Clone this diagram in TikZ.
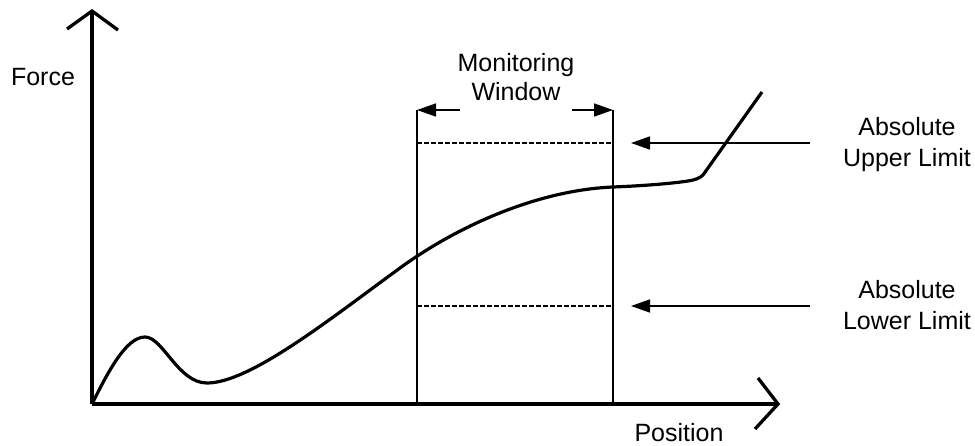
\documentclass[tikz,border=0pt]{standalone}
\usepackage{fontspec}
\setmainfont{Liberation Sans}
\usetikzlibrary{arrows.meta}
\begin{document}
\begin{tikzpicture}[x=1pt,y=-1pt,
  axis/.style={line width=3.3pt,line cap=butt,line join=miter},
  curve/.style={line width=3.2pt,line join=round},
  frame/.style={line width=1.4pt},
  limit/.style={line width=1.3pt,dash pattern=on 4.5pt off 2.5pt},
  pointer/.style={line width=1.6pt,-{Triangle[length=19pt,width=13pt]}},
  lbl/.style={anchor=base,inner sep=0pt,font=\fontsize{25}{30}\selectfont}]
\useasboundingbox (0,0) rectangle (975,445);

% axes with open heads
\coordinate (O) at (92,404);
\coordinate (ytop) at (92,11);
\coordinate (ya) at (67,29);
\coordinate (yb) at (118,30);
\coordinate (xend) at (778,404);
\coordinate (xa) at (758,378);
\coordinate (xb) at (755,429);
\draw[axis] (O) -- (ytop);
\draw[axis] (ya) -- (ytop) -- (yb);
\draw[axis] (O) -- (xend);
\draw[axis] (xa) -- (xend) -- (xb);

% monitoring window
\coordinate (wlt) at (417,110);
\coordinate (wlb) at (417,404);
\coordinate (wrt) at (613,110);
\coordinate (wrb) at (613,404);
\draw[frame] (wlt) -- (wlb);
\draw[frame] (wrt) -- (wrb);
\coordinate (wla) at (460,110);
\coordinate (wra) at (572,110);
\draw[pointer] (wla) -- (wlt);
\draw[pointer] (wra) -- (wrt);

% limit lines
\coordinate (ul1) at (417,143);
\coordinate (ul2) at (613,143);
\coordinate (ll1) at (417,306);
\coordinate (ll2) at (613,306);
\draw[limit] (ul1) -- (ul2);
\draw[limit] (ll1) -- (ll2);
\coordinate (uls) at (810,143);
\coordinate (ule) at (631,143);
\coordinate (lls) at (810,306);
\coordinate (lle) at (631,306);
\draw[pointer] (uls) -- (ule);
\draw[pointer] (lls) -- (lle);

% force curve
\draw[curve] (O)
  .. controls (108,372) and (126,337) .. (145,337)
  .. controls (163,337) and (178,383) .. (207,383)
  .. controls (250,383) and (330,319) .. (400,268)
  .. controls (460,224.3) and (540,190) .. (613,187)
  .. controls (650,185.5) and (675,183) .. (688,181)
  .. controls (695,180) and (700,178) .. (703,175)
  -- (762,92);

% labels
\node[lbl] (force) at (43,85) {Force};
\node[lbl] (mon1) at (516,71) {Monitoring};
\node[lbl] (mon2) at (516,100) {Window};
\node[lbl] (up1) at (907,135) {Absolute};
\node[lbl] (up2) at (907,166) {Upper Limit};
\node[lbl] (lo1) at (907,298) {Absolute};
\node[lbl] (lo2) at (907,329) {Lower Limit};
\node[lbl] (pos) at (679,441) {Position};
\end{tikzpicture}
\end{document}
